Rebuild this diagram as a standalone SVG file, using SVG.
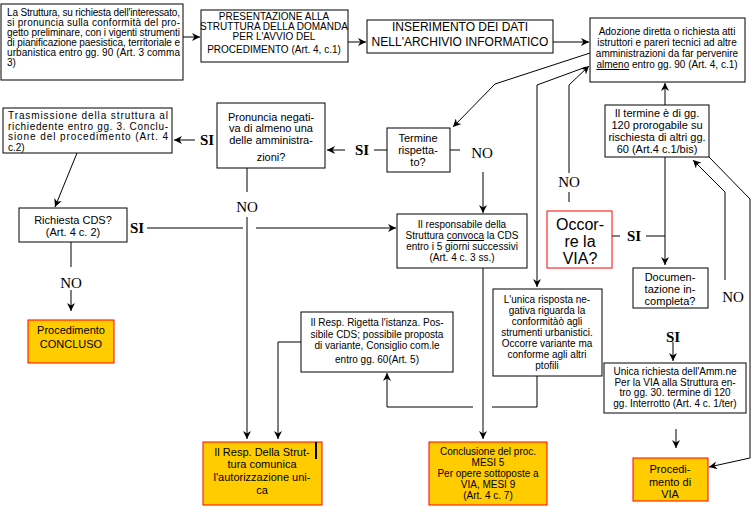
<svg xmlns="http://www.w3.org/2000/svg" width="753" height="510" viewBox="0 0 753 510">
<defs>
<marker id="ah" viewBox="0 0 10 10" refX="10" refY="5" markerWidth="9" markerHeight="8" orient="auto" markerUnits="userSpaceOnUse"><path d="M0,0 L10,5 L0,10 L3,5 Z" fill="#000"/></marker>
</defs>
<style>
rect{fill:#fff;stroke:#000;stroke-width:1}
rect.g{fill:#FFCC00;stroke:#FF0000}
rect.r{fill:#fff;stroke:#FF0000}
text{font-family:"Liberation Sans",Arial,sans-serif;font-size:10px;fill:#000}
.c{text-anchor:middle}
.s{font-size:11px}
.lbl{font-family:"Liberation Serif","Times New Roman",serif;font-size:15px;text-anchor:middle}
#conn path{fill:none;stroke:#000;stroke-width:1}
</style>
<rect x="0" y="0" width="753" height="510" style="fill:#fff;stroke:none"/>
<g id="conn">
<path d="M183,37 H200" marker-end="url(#ah)"/>
<path d="M348,42 H366" marker-end="url(#ah)"/>
<path d="M553,42 H589" marker-end="url(#ah)"/>
<path d="M665,105 V83" marker-end="url(#ah)"/>
<path d="M590,53 L495,84 L453,127" marker-end="url(#ah)"/>
<path d="M586,67 L537,85 V287" marker-end="url(#ah)"/>
<path d="M569,173 V85 L589,66" marker-end="url(#ah)"/>
<path d="M569,192 V202"/>
<path d="M387,150 H374"/>
<path d="M345,150 H327" marker-end="url(#ah)"/>
<path d="M450,150 H460"/>
<path d="M483,172 V213" marker-end="url(#ah)"/>
<path d="M195,140 H174" marker-end="url(#ah)"/>
<path d="M77,153 L55,207" marker-end="url(#ah)"/>
<path d="M147,228 H243"/>
<path d="M256,228 H396" marker-end="url(#ah)"/>
<path d="M247,168 V192"/>
<path d="M247,217 V439" marker-end="url(#ah)"/>
<path d="M71,242 V267"/>
<path d="M71,290 V311" marker-end="url(#ah)"/>
<path d="M301,342 H278 V439" marker-end="url(#ah)"/>
<path d="M537,376 V407 H492"/>
<path d="M473,407 H387 V373" marker-end="url(#ah)"/>
<path d="M483,268 V439" marker-end="url(#ah)"/>
<path d="M612,236 H620"/>
<path d="M646,236 H665"/>
<path d="M665,157 V265" marker-end="url(#ah)"/>
<path d="M725,280 V192 L693,160" marker-end="url(#ah)"/>
<path d="M673,342 V361" marker-end="url(#ah)"/>
<path d="M676,429 V448" marker-end="url(#ah)"/>
<path d="M709,157 L750,199 V458 L709,467" marker-end="url(#ah)"/>
</g>
<g id="labels">
<text class="lbl" x="362" y="155" font-weight="bold">SI</text>
<text class="lbl" x="482" y="158">NO</text>
<text class="lbl" x="207" y="145" font-weight="bold">SI</text>
<text class="lbl" x="137" y="233" font-weight="bold">SI</text>
<text class="lbl" x="247" y="212">NO</text>
<text class="lbl" x="71" y="288">NO</text>
<text class="lbl" x="569" y="187">NO</text>
<text class="lbl" x="634" y="241" font-weight="bold">SI</text>
<text class="lbl" x="733" y="302">NO</text>
<text class="lbl" x="673" y="342" font-weight="bold">SI</text>
</g>
<g id="n1">
<rect x="1" y="4" width="182" height="76"/>
<text x="7" y="16" textLength="173" lengthAdjust="spacing">La Struttura, su richiesta dell'interessato,</text>
<text x="7" y="26" textLength="173" lengthAdjust="spacing">si pronuncia sulla conformità del pro-</text>
<text x="7" y="36" textLength="173" lengthAdjust="spacing">getto preliminare, con i vigenti strumenti</text>
<text x="7" y="46" textLength="173" lengthAdjust="spacing">di pianificazione paesistica, territoriale e</text>
<text x="7" y="56" textLength="173" lengthAdjust="spacing">urbanistica entro gg. 90 (Art. 3 comma</text>
<text x="7" y="66">3)</text>
</g>
<g id="n2">
<rect x="201" y="10" width="147" height="52"/>
<text class="c" x="274" y="20">PRESENTAZIONE ALLA</text>
<text class="c" x="274" y="30">STRUTTURA DELLA DOMANDA</text>
<text class="c" x="274" y="40">PER L'AVVIO DEL</text>
<text class="c" x="274" y="53">PROCEDIMENTO (Art. 4, c.1)</text>
</g>
<g id="n3">
<rect x="367" y="20" width="186" height="33"/>
<text class="c" x="460" y="31" style="font-size:12px">INSERIMENTO DEI DATI</text>
<text class="c" x="460" y="46" style="font-size:12px">NELL'ARCHIVIO INFORMATICO</text>
</g>
<g id="n4">
<rect x="590" y="18" width="155" height="64"/>
<text class="c" x="667" y="35">Adozione diretta o richiesta atti</text>
<text class="c" x="667" y="46">istruttori e pareri tecnici ad altre</text>
<text class="c" x="667" y="57">amministrazioni da far pervenire</text>
<text class="c" x="667" y="68"><tspan text-decoration="underline">almeno</tspan> entro gg. 90 (Art. 4, c.1)</text>
</g>
<g id="n5">
<rect x="605" y="105" width="104" height="52"/>
<text class="c s" x="657" y="117">Il termine è di gg.</text>
<text class="c s" x="657" y="129">120 prorogabile su</text>
<text class="c s" x="657" y="141">rischiesta di altri gg.</text>
<text class="c s" x="657" y="153">60 (Art.4 c.1/bis)</text>
</g>
<g id="n6">
<rect x="387" y="128" width="63" height="44"/>
<text class="c s" x="418" y="142">Termine</text>
<text class="c s" x="418" y="154">rispetta-</text>
<text class="c s" x="418" y="166">to?</text>
</g>
<g id="n7">
<rect x="217" y="103" width="108" height="65"/>
<text class="c s" x="271" y="121">Pronuncia negati-</text>
<text class="c s" x="271" y="132">va di almeno una</text>
<text class="c s" x="271" y="144">delle amministra-</text>
<text class="c s" x="271" y="161">zioni?</text>
</g>
<g id="n8">
<rect x="3" y="108" width="169" height="45"/>
<text x="8" y="119" textLength="160" lengthAdjust="spacing">Trasmissione della struttura al</text>
<text x="8" y="129.5" textLength="160" lengthAdjust="spacing">richiedente entro gg. 3. Conclu-</text>
<text x="8" y="140" textLength="160" lengthAdjust="spacing">sione del procedimento (Art. 4</text>
<text x="8" y="150.5">c.2)</text>
</g>
<g id="n9">
<rect x="19" y="208" width="108" height="34"/>
<text class="c s" x="73" y="224">Richiesta CDS?</text>
<text class="c s" x="73" y="236">(Art. 4 c. 2)</text>
</g>
<g id="n10">
<rect class="g" x="28" y="320" width="86" height="43"/>
<text class="c s" x="71" y="334">Procedimento</text>
<text class="c s" x="71" y="348">CONCLUSO</text>
</g>
<g id="n11">
<rect x="397" y="214" width="130" height="54"/>
<text class="c" x="462" y="228">Il responsabile della</text>
<text class="c" x="462" y="239">Struttura <tspan text-decoration="underline">convoca</tspan> la CDS</text>
<text class="c" x="462" y="250">entro i 5 giorni successivi</text>
<text class="c" x="462" y="261">(Art. 4 c. 3 ss.)</text>
</g>
<g id="n12">
<rect class="r" x="547" y="211" width="65" height="57"/>
<text class="c" x="580" y="230" style="font-size:16px">Occor-</text>
<text class="c" x="580" y="247" style="font-size:16px">re la</text>
<text class="c" x="580" y="264" style="font-size:16px">VIA?</text>
</g>
<g id="n13">
<rect x="633" y="268" width="75" height="40"/>
<text class="c s" x="670" y="281">Documen-</text>
<text class="c s" x="670" y="293">tazione in-</text>
<text class="c s" x="670" y="305">completa?</text>
</g>
<g id="n14">
<rect x="301" y="312" width="152" height="60"/>
<text class="c" x="377" y="326">Il Resp. Rigetta l'istanza. Pos-</text>
<text class="c" x="377" y="338">sibile CDS; possibile proposta</text>
<text class="c" x="377" y="349">di variante, Consiglio com.le</text>
<text class="c" x="377" y="363">entro gg. 60(Art. 5)</text>
</g>
<g id="n15">
<rect x="493" y="289" width="109" height="87"/>
<text class="c" x="547" y="303">L'unica risposta ne-</text>
<text class="c" x="547" y="314">gativa riguarda la</text>
<text class="c" x="547" y="325">conformitàò agli</text>
<text class="c" x="547" y="336">strumenti urbanistici.</text>
<text class="c" x="547" y="347">Occorre variante ma</text>
<text class="c" x="547" y="358">conforme agli altri</text>
<text class="c" x="547" y="369">ptofili</text>
</g>
<g id="n16">
<rect x="604" y="363" width="142" height="50"/>
<text class="c" x="675" y="375">Unica richiesta dell'Amm.ne</text>
<text class="c" x="675" y="386">Per la VIA alla Struttura en-</text>
<text class="c" x="675" y="396">tro gg. 30. termine di 120</text>
<text class="c" x="675" y="407">gg. Interrotto (Art. 4 c. 1/ter)</text>
</g>
<g id="n17">
<rect class="g" x="203" y="442" width="119" height="63"/>
<rect x="315" y="442" width="2" height="17" style="fill:#000;stroke:none"/>
<text class="c s" x="262" y="456">Il Resp. Della Strut-</text>
<text class="c s" x="262" y="468">tura comunica</text>
<text class="c s" x="262" y="481">l'autorizzazione uni-</text>
<text class="c s" x="262" y="494">ca</text>
</g>
<g id="n18">
<rect class="g" x="429" y="442" width="118" height="63"/>
<text class="c" x="488" y="455">Conclusione del proc.</text>
<text class="c" x="488" y="466">MESI 5</text>
<text class="c" x="488" y="477">Per opere sottoposte a</text>
<text class="c" x="488" y="488">VIA, MESI 9</text>
<text class="c" x="488" y="499">(Art. 4 c. 7)</text>
</g>
<g id="n19">
<rect class="g" x="633" y="458" width="75" height="43"/>
<text class="c s" x="670" y="473">Procedi-</text>
<text class="c s" x="670" y="486">mento di</text>
<text class="c s" x="670" y="498">VIA</text>
</g>
</svg>
